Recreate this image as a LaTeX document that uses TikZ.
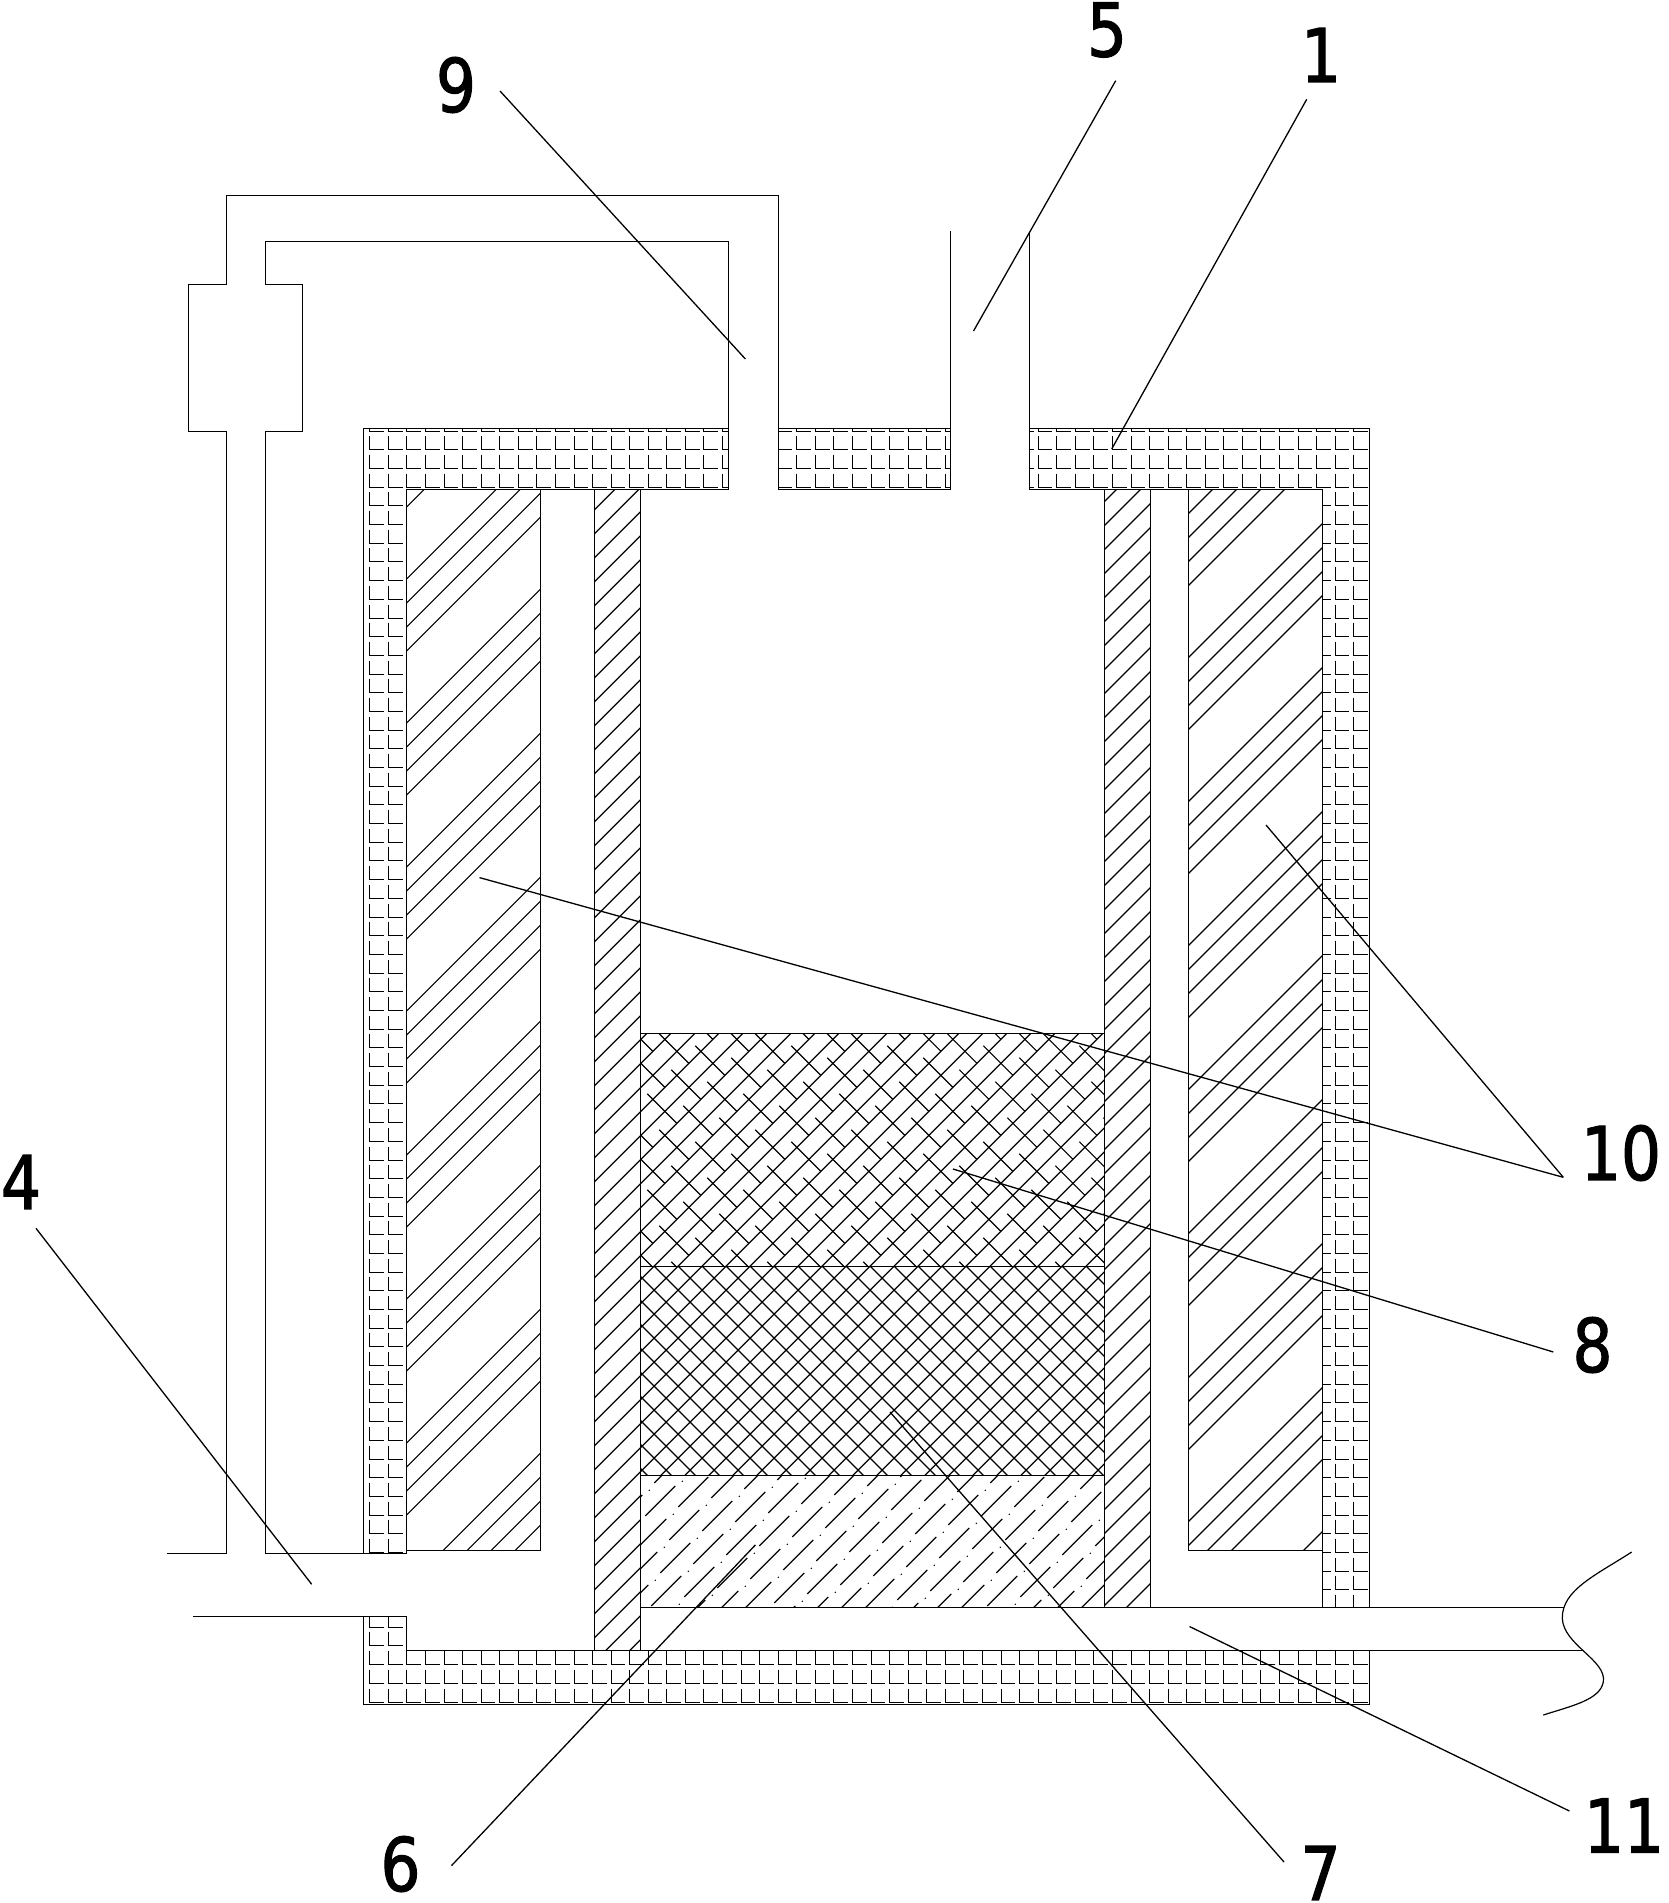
\documentclass[tikz,border=0pt]{standalone}
\usepackage{fontspec}
\newfontfamily\numfont[FakeStretch=0.85,FakeBold=1.5]{DejaVu Sans}
\tikzset{
  num/.style={inner sep=0pt,font=\numfont\fontsize{74}{74}\selectfont},
  wall/.style={line width=1.2pt,line join=miter},
  hatch/.style={line width=1.2pt},
  tile/.style={line width=1.2pt},
  leader/.style={line width=1.3pt}
}
\begin{document}
\begin{tikzpicture}[x=1pt,y=-1pt]
\useasboundingbox (0,0) rectangle (1669,1903);
% insulation
\begin{scope}
\clip (363.5,428.5) rectangle (728.5,489.5) (778.5,428.5) rectangle (950.5,489.5) (1029.5,428.5) rectangle (1369.5,489.5)
      (363.5,428.5) rectangle (406.5,1553.5) (1322.5,428.5) rectangle (1369.5,1607.5)
      (363.5,1616.5) rectangle (406.5,1704.5) (363.5,1650.5) rectangle (1369.5,1704.5);
\foreach \j in {0,...,68} {
  \draw [tile] \foreach \i in {0,...,54} {
    ({round(369.3+18.566*\i)+.5},{round(416.6+18.69*\j)+.5}) -- ({round(369.3+18.566*\i)+.5},{round(430.6+18.69*\j)+.5}) -- ({round(383+18.566*\i)+.5},{round(430.6+18.69*\j)+.5})
  };
}
\end{scope}
% coil blocks
\begin{scope}
\clip (406.5,489.5) rectangle (540.5,1550.5);
\foreach \g in {-1,...,8} \foreach \k in {0,...,3} {
  \pgfmathsetmacro\cc{985.6+144*\g+24*\k}
  \draw [hatch] (406.5,\cc-406.5) -- (540.5,\cc-540.5);
}
\end{scope}
\begin{scope}
\clip (1188.5,489.5) rectangle (1322.5,1550.5);
\foreach \g in {-1,...,8} \foreach \k in {0,...,3} {
  \pgfmathsetmacro\cc{1702+144*\g+24*\k}
  \draw [hatch] (1188.5,\cc-1188.5) -- (1322.5,\cc-1322.5);
}
\end{scope}
% tube walls
\begin{scope}
\clip (594.5,489.5) rectangle (640.5,1650.5);
\foreach \k in {-1,...,50} {
  \pgfmathsetmacro\cc{1104.3+24*\k}
  \draw [hatch] (594.5,\cc-594.5) -- (640.5,\cc-640.5);
}
\end{scope}
\begin{scope}
\clip (1104.5,489.5) rectangle (1150.5,1607.5);
\foreach \k in {-2,...,47} {
  \pgfmathsetmacro\cc{1630+24*\k}
  \draw [hatch] (1104.5,\cc-1104.5) -- (1150.5,\cc-1150.5);
}
\end{scope}
% layers 8 and 7
\begin{scope}
\clip (640.5,1033.5) rectangle (1104.5,1475.5);
\foreach \k in {-2,...,37} {
  \pgfmathsetmacro\cc{1704.3+24*\k}
  \draw [hatch] (640.5,\cc-640.5) -- (1104.5,\cc-1104.5);
}
\end{scope}
\begin{scope}
\clip (640.5,1266.5) rectangle (1104.5,1475.5);
\foreach \k in {-19,...,10} {
  \pgfmathsetmacro\dd{612+24*\k}
  \draw [hatch] (640.5,\dd+640.5) -- (1104.5,\dd+1104.5);
}
\end{scope}
\begin{scope}
\clip (640.5,1033.5) rectangle (1104.5,1266.5);
\foreach \j in {-16,...,12} {
  \draw [hatch] \foreach \i in {-14,...,24} {
    (695.3+36*\i-24*\j,1045.7+12*\i+24*\j) -- ++(29.5,29.5)
  };
}
\end{scope}
% layer 6
\begin{scope}
\clip (640.5,1475.5) rectangle (1104.5,1607.5);
\foreach \j in {-6,...,8} {
  \draw [hatch] \foreach \i in {-3,...,16} {
    (645.3+33*\i+24*\j,1516-9*\i+24*\j) -- ++(30,-30)
  };
  \fill \foreach \i in {-3,...,16} {
    (649.3+33*\i+24*\j,1490.3-9*\i+24*\j) circle (0.8)
  };
}
\end{scope}
% pipe
\draw [wall] (167,1553.5) -- (226.5,1553.5) -- (226.5,431.5) -- (188.5,431.5) -- (188.5,284.5) -- (226.5,284.5) -- (226.5,195.5) -- (778.5,195.5) -- (778.5,489.5) -- (950.5,489.5) -- (950.5,230.5);
\draw [wall] (778.5,428.5) -- (950.5,428.5);
\draw [wall] (363.5,1553.5) -- (265.5,1553.5) -- (265.5,431.5) -- (302.5,431.5) -- (302.5,284.5) -- (265.5,284.5) -- (265.5,241.5) -- (728.5,241.5) -- (728.5,489.5) -- (406.5,489.5) -- (406.5,1553.5) -- (363.5,1553.5) -- (363.5,428.5) -- (728.5,428.5);
% shell
\draw [wall] (193.3,1616.5) -- (406.5,1616.5) -- (406.5,1650.5) -- (1582,1650.5);
\draw [wall] (363.5,1616.5) -- (363.5,1704.5) -- (1369.5,1704.5) -- (1369.5,1650.5);
\draw [wall] (640.5,1607.5) -- (1564,1607.5);
\draw [wall] (1322.5,1607.5) -- (1322.5,489.5) -- (1029.5,489.5) -- (1029.5,233);
\draw [wall] (1029.5,428.5) -- (1369.5,428.5) -- (1369.5,1607.5);
\draw [wall] (1631.7,1552) .. controls (1596,1575) and (1562,1590) .. (1562.3,1618) .. controls (1563,1645) and (1607,1660) .. (1603.3,1682) .. controls (1600,1700) and (1571,1706) .. (1543.3,1715);
% blocks and tubes
\draw [wall] (406.5,1550.5) -- (540.5,1550.5) -- (540.5,489.5);
\draw [wall] (1322.5,1550.5) -- (1188.5,1550.5) -- (1188.5,489.5);
\draw [wall] (594.5,489.5) -- (594.5,1650.5);
\draw [wall] (640.5,489.5) -- (640.5,1650.5);
\draw [wall] (1104.5,489.5) -- (1104.5,1607.5);
\draw [wall] (1150.5,489.5) -- (1150.5,1607.5);
\draw [wall] (640.5,1033.5) -- (1104.5,1033.5);
\draw [wall] (640.5,1266.5) -- (1104.5,1266.5);
\draw [wall] (640.5,1475.5) -- (1104.5,1475.5);
% labels
\node (lab9) at (456,85)[num] {9};
\node (lab5) at (1107,30)[num] {5};
\node (lab1) at (1321,55)[num] {1};
\node (lab10) at (1621,1153)[num] {10};
\node (lab8) at (1592.5,1345)[num] {8};
\node (lab7) at (1320.6,1873)[num] {7};
\node (lab11) at (1624,1825.5)[num] {11};
\node (lab6) at (400.5,1864)[num] {6};
\node (lab4) at (21,1182)[num] {4};
\coordinate (tip9) at (745.4,359);
\coordinate (tip5) at (973.5,331);
\coordinate (tip1) at (1111.7,449);
\coordinate (tip10a) at (479.5,877.6);
\coordinate (tip10b) at (1266,825);
\coordinate (tip8) at (953,1169);
\coordinate (tip7) at (890,1412);
\coordinate (tip11) at (1189.5,1626.5);
\coordinate (tip6) at (755.3,1545);
\coordinate (tip4) at (311.7,1584.3);
\draw [leader] ([shift={(44,6)}]lab9.center) -- (tip9);
\draw [leader] ([shift={(8.7,50.7)}]lab5.center) -- (tip5);
\draw [leader] ([shift={(-14.3,44.3)}]lab1.center) -- (tip1);
\draw [leader] ([shift={(-57.7,24.3)}]lab10.center) -- (tip10a);
\draw [leader] ([shift={(-57.7,24.3)}]lab10.center) -- (tip10b);
\draw [leader] ([shift={(-39.2,7)}]lab8.center) -- (tip8);
\draw [leader] ([shift={(-36.6,-11)}]lab7.center) -- (tip7);
\draw [leader] ([shift={(-54.6,-14.5)}]lab11.center) -- (tip11);
\draw [leader] ([shift={(51,1.6)}]lab6.center) -- (tip6);
\draw [leader] ([shift={(15,46.3)}]lab4.center) -- (tip4);
\end{tikzpicture}
\end{document}
